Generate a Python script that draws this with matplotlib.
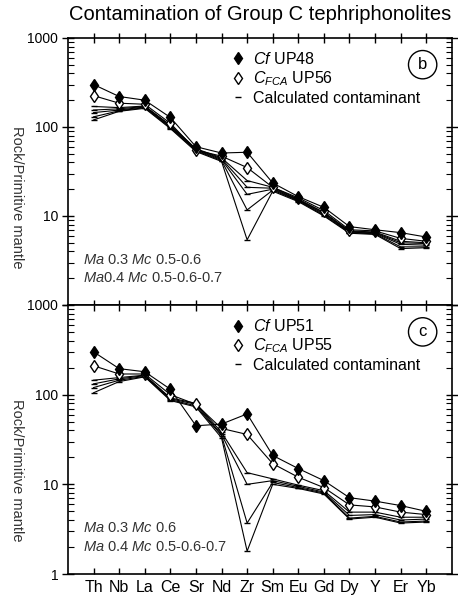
import numpy as np
import matplotlib
matplotlib.use('Agg')
import matplotlib.pyplot as plt
from matplotlib.ticker import LogLocator, FixedLocator, FixedFormatter, NullFormatter
from matplotlib.lines import Line2D

# --- plot settings
plt.rcParams['font.family'] = ['Liberation Sans', 'DejaVu Sans']
plt.rcParams['mathtext.fontset'] = 'custom'
plt.rcParams['mathtext.rm'] = 'Liberation Sans'
plt.rcParams['mathtext.it'] = 'Liberation Sans:italic'
plt.rcParams['axes.linewidth'] = 1.2

# --- data (rock / primitive mantle)
elements = ['Th', 'Nb', 'La', 'Ce', 'Sr', 'Nd', 'Zr', 'Sm', 'Eu', 'Gd', 'Dy', 'Y', 'Er', 'Yb']

# panel b
cf_b = [300, 220, 200, 128, 60, 51, 52, 23.5, 16.5, 12.5, 7.6, 7.0, 6.5, 5.8]
cfca_b = [225, 185, 180, 110, 55, 47, 35, 21, 16, 11.5, 7.0, 6.8, 5.6, 5.2]
cont_b = [
    [170, 165, 172, 105, 57, 45, 25.0, 21.0, 15.5, 11.0, 6.8, 6.6, 5.2, 5.0],
    [155, 160, 170, 103, 56, 44, 21.0, 20.5, 15.2, 10.8, 6.7, 6.5, 5.0, 4.9],
    [145, 155, 168, 100, 55, 43, 17.5, 20.0, 15.0, 10.5, 6.6, 6.4, 4.8, 4.7],
    [130, 152, 165, 98, 54, 42, 11.7, 19.5, 14.8, 10.2, 6.5, 6.3, 4.5, 4.5],
    [120, 150, 162, 96, 53, 41, 5.4, 19.0, 14.5, 10.0, 6.4, 6.2, 4.3, 4.4],
]

# panel c
cf_c = [300, 195, 180, 115, 45, 47, 61, 21, 15, 11, 7.1, 6.5, 5.8, 5.0]
cfca_c = [210, 170, 170, 100, 78, 42, 36, 17, 12, 9.2, 5.9, 5.6, 4.9, 4.6]
cont_c = [
    [145, 155, 165, 92, 80, 38, 13.5, 11.5, 9.8, 8.5, 4.9, 4.9, 4.3, 4.3],
    [132, 150, 163, 90, 78, 36, 10.0, 11.0, 9.5, 8.2, 4.5, 4.6, 4.0, 4.1],
    [120, 145, 160, 88, 75, 35, 3.7, 10.5, 9.2, 8.0, 4.2, 4.4, 3.8, 3.9],
    [105, 140, 158, 86, 73, 33, 1.8, 10.0, 9.0, 7.8, 4.1, 4.3, 3.7, 3.8],
]

panels = [
    dict(cf=cf_b, cfca=cfca_b, cont=cont_b, cf_name='UP48', cfca_name='UP56', tag='b',
         note=[r'$Ma$ 0.3 $Mc$ 0.5-0.6', r'$Ma$0.4 $Mc$ 0.5-0.6-0.7']),
    dict(cf=cf_c, cfca=cfca_c, cont=cont_c, cf_name='UP51', cfca_name='UP55', tag='c',
         note=[r'$Ma$ 0.3 $Mc$ 0.6', r'$Ma$ 0.4 $Mc$ 0.5-0.6-0.7']),
]

fig = plt.figure(figsize=(4.58, 6.0), dpi=100)
ax_b = fig.add_axes([0.1485, 0.4917, 0.838, 0.445])
ax_c = fig.add_axes([0.1485, 0.0433, 0.838, 0.4484])
axes = [ax_b, ax_c]

x = np.arange(len(elements))

for i, (ax, p) in enumerate(zip(axes, panels)):
    for cont in p['cont']:
        ax.plot(x, cont, color='k', lw=0.8, marker='_', ms=5, mew=1.0)
    ax.plot(x, p['cfca'], color='k', lw=0.8, marker='d', ms=6, mfc='white', mec='k', mew=1.0)
    ax.plot(x, p['cf'], color='k', lw=0.8, marker='d', ms=6, mfc='k', mec='k')

    ax.set_yscale('log')
    ax.set_ylim(1, 1000)
    ax.set_xlim(-1, len(elements))

    ax.xaxis.set_major_locator(FixedLocator(x))
    ax.yaxis.set_major_locator(FixedLocator([1, 10, 100, 1000]))
    ax.yaxis.set_minor_locator(LogLocator(base=10, subs=np.arange(2, 10), numticks=20))
    ax.yaxis.set_minor_formatter(NullFormatter())
    if i == 0:
        ax.yaxis.set_major_formatter(FixedFormatter(['', '10', '100', '1000']))
        ax.tick_params(axis='x', which='major', direction='inout', length=7, width=1.0,
                       top=True, bottom=True, labelbottom=False)
    else:
        ax.yaxis.set_major_formatter(FixedFormatter(['1', '10', '100', '1000']))
        ax.set_xticklabels(elements)
        ax.tick_params(axis='x', which='major', direction='in', length=4, width=1.0,
                       top=True, bottom=True, labelsize=11.5, pad=4)
    ax.tick_params(axis='y', which='major', direction='inout', length=8, width=1.0,
                   left=True, right=True, labelsize=10, pad=3)
    ax.tick_params(axis='y', which='minor', direction='in', length=4, width=0.8,
                   left=True, right=True)

    handles = [
        Line2D([], [], ls='none', marker='d', ms=6, mfc='k', mec='k'),
        Line2D([], [], ls='none', marker='d', ms=6, mfc='white', mec='k', mew=1.0),
        Line2D([], [], ls='none', marker='_', ms=5, mec='k', mew=1.0),
    ]
    labels = [r'$Cf$ ' + p['cf_name'], r'$C_{FCA}$ ' + p['cfca_name'], 'Calculated contaminant']
    ax.legend(handles, labels, loc='upper left', bbox_to_anchor=(0.415, 0.975), frameon=False,
              fontsize=11.5, handlelength=0.6, handletextpad=0.6, labelspacing=0.15,
              borderaxespad=0)

    ax.text(0.924, 0.90, p['tag'], transform=ax.transAxes, ha='center', va='center',
            fontsize=12, bbox=dict(boxstyle='circle,pad=0.4', fc='none', ec='k', lw=1.0))

    ax.text(0.04, 0.17, p['note'][0], transform=ax.transAxes, ha='left', va='center',
            fontsize=10.5, color='#333333')
    ax.text(0.04, 0.10, p['note'][1], transform=ax.transAxes, ha='left', va='center',
            fontsize=10.5, color='#333333')

fig.text(0.038, 1 - 197 / 600, 'Rock/Primitive mantle', rotation=270, ha='center', va='center',
         fontsize=10.5, color='#333333')
fig.text(0.038, 1 - 470 / 600, 'Rock/Primitive mantle', rotation=270, ha='center', va='center',
         fontsize=10.5, color='#333333')

ax_b.set_title('Contamination of Group C tephriphonolites', fontsize=14.5, pad=13)

plt.savefig('out.png', dpi=100)
